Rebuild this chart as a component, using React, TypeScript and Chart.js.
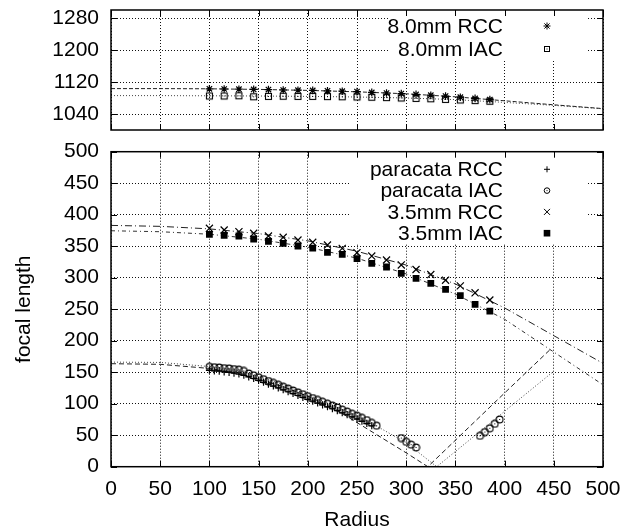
import React, { useEffect, useRef } from 'react';
import { Chart, registerables } from 'chart.js';

Chart.register(...registerables);

const FONT = '"Liberation Sans", Arial, Helvetica, sans-serif';
const FS = 21;

// ---- tick labels ----
const xTicks = [0, 50, 100, 150, 200, 250, 300, 350, 400, 450, 500];
const topYTicks = [1040, 1120, 1200, 1280];
const bottomYTicks = [0, 50, 100, 150, 200, 250, 300, 350, 400, 450, 500];

// ---- 8.0mm (top panel) ----
const mm80X = [100, 115, 130, 145, 160, 175, 190, 205, 220, 235, 250, 265, 280, 295, 310, 325, 340, 355, 370, 385];
const mm80RccY = [1103, 1102.5, 1102, 1101.5, 1101, 1100, 1099.5, 1099, 1098, 1097, 1096, 1094, 1092.5, 1091, 1089, 1087, 1085, 1082, 1079, 1076];
const mm80IacY = [1085, 1085, 1085.5, 1083, 1084, 1084.5, 1084, 1084, 1083.5, 1083, 1082.5, 1082, 1081, 1080, 1079, 1078, 1076.5, 1075, 1073.5, 1072];

const fit80X = [0, 50, 100, 150, 200, 250, 300, 350, 400, 450, 500];
const fit80RccY = [1103.5, 1103.5, 1103, 1101.5, 1099, 1095.5, 1090.5, 1083, 1073, 1063, 1053.5];
const fit80IacY = [1086, 1086, 1085.5, 1085, 1084, 1082.5, 1080, 1076, 1069, 1061.5, 1053];

// ---- 3.5mm (bottom panel) ----
const mm35X = [100, 115, 130, 145, 160, 175, 190, 205, 220, 235, 250, 265, 280, 295, 310, 325, 340, 355, 370, 385];
const mm35RccY = [378.4, 375.7, 373, 370.5, 366.2, 364.1, 359.8, 356.2, 351.9, 346.6, 339.7, 334.4, 328.1, 320.2, 313, 305, 296, 287, 276, 264.6];
const mm35IacY = [368.9, 367.3, 366.2, 361.4, 357.8, 354.6, 350.3, 347.1, 340.3, 337.1, 330.2, 322.8, 317, 307, 299, 291, 281.6, 271.5, 257.8, 247.1];

const fit35X = [0, 50, 100, 150, 200, 250, 300, 350, 400, 450, 500];
const fit35RccY = [383, 381.5, 377.5, 370, 358.5, 342, 320, 290, 252, 208, 164];
const fit35IacY = [374.5, 373, 369, 361, 348.5, 331, 306, 274, 234, 182, 130];

// ---- paracata (bottom panel) ----
const paraRccX = [100, 105, 110, 115, 120, 125, 130, 135, 140, 145, 150, 155, 160, 165, 170, 175, 180, 185, 190, 195, 200, 205, 210, 215, 220, 225, 230, 235, 240, 245, 250, 255, 260, 265];
const paraRccY = [153, 152, 151.5, 150.5, 149.5, 148.5, 147, 145, 142.5, 140, 137, 134, 131, 128, 125, 122, 119, 116, 113, 110, 107, 104, 101, 98, 95, 92, 89, 85.5, 82.5, 79, 75.5, 72, 68.5, 65];

const paraIacX = [100, 105, 110, 115, 120, 125, 130, 135, 140, 145, 150, 155, 160, 165, 170, 175, 180, 185, 190, 195, 200, 205, 210, 215, 220, 225, 230, 235, 240, 245, 250, 255, 260, 265, 270, 295, 300, 305, 310, 375, 380, 385, 390, 395];
const paraIacY = [158.5, 158, 157.5, 156.5, 156, 155, 154, 152, 148, 145, 142, 139, 136, 133, 130, 127, 124, 121, 118, 115, 112, 109, 106, 103, 100, 97, 94, 90.5, 87.5, 84, 81, 77.5, 74, 69.5, 65, 45.5, 39.5, 35, 30.5, 49, 55, 61, 68, 75];

const fitParaRccX = [0, 50, 100, 125, 150, 175, 200, 225, 250, 275, 300, 322, 350, 400, 447];
const fitParaRccY = [163.5, 162.5, 156, 148.5, 139, 127, 112, 94, 70, 46, 22, 0, 42, 117, 187];
const fitParaIacX = [0, 50, 100, 125, 150, 175, 200, 225, 250, 275, 300, 331, 375, 400, 449.5];
const fitParaIacY = [166, 165.5, 159, 154.5, 144, 130, 114, 98, 80, 60, 38, 0, 56, 88, 151];

const topNames = ['8.0mm RCC', '8.0mm IAC'];
const bottomNames = ['paracata RCC', 'paracata IAC', '3.5mm RCC', '3.5mm IAC'];

const pts = (xs: number[], ys: number[]) => xs.map((x, i) => ({ x, y: ys[i] }));

function makeSymCanvas(kind: 'sqdot' | 'circdot') {
  const c = document.createElement('canvas');
  c.width = 9;
  c.height = 9;
  const g = c.getContext('2d')!;
  g.strokeStyle = '#000';
  g.fillStyle = '#000';
  g.lineWidth = 1.1;
  if (kind === 'sqdot') {
    g.strokeRect(1.5, 1.5, 6, 6);
    g.fillRect(4, 4, 1, 1);
  } else {
    g.beginPath();
    g.arc(4.5, 4.5, 3.4, 0, Math.PI * 2);
    g.stroke();
    g.fillRect(4, 4, 1, 1);
  }
  return c;
}

function drawKeySym(ctx: CanvasRenderingContext2D, kind: string, x: number, y: number) {
  ctx.save();
  ctx.strokeStyle = '#000';
  ctx.fillStyle = '#000';
  ctx.lineWidth = 1;
  const line = (x1: number, y1: number, x2: number, y2: number) => {
    ctx.beginPath();
    ctx.moveTo(x1, y1);
    ctx.lineTo(x2, y2);
    ctx.stroke();
  };
  const r = 3;
  switch (kind) {
    case 'star':
      line(x - 3.5, y, x + 3.5, y);
      line(x, y - 3.5, x, y + 3.5);
      line(x - 2.6, y - 2.6, x + 2.6, y + 2.6);
      line(x - 2.6, y + 2.6, x + 2.6, y - 2.6);
      break;
    case 'sqdot':
      ctx.strokeRect(Math.round(x) - 2.5, Math.round(y) - 2.5, 5, 5);
      ctx.fillRect(Math.round(x) - 0.5, Math.round(y) - 0.5, 1, 1);
      break;
    case 'plus':
      line(x - r, y, x + r, y);
      line(x, y - r, x, y + r);
      break;
    case 'circdot':
      ctx.beginPath();
      ctx.arc(x, y, 2.8, 0, Math.PI * 2);
      ctx.stroke();
      ctx.fillRect(x - 0.5, y - 0.5, 1, 1);
      break;
    case 'x':
      line(x - r, y - r, x + r, y + r);
      line(x - r, y + r, x + r, y - r);
      break;
    case 'fsq':
      ctx.fillRect(x - 3.3, y - 3.3, 6.6, 6.6);
      break;
  }
  ctx.restore();
}

function gnuPlugin(cfg: { boxLeft: number; boxH: number; row0: number; step: number }) {
  return {
    id: 'gnuFrame',
    beforeDatasetsDraw(chart: any) {
      const { ctx, chartArea: a } = chart;
      ctx.save();
      ctx.fillStyle = '#fff';
      ctx.fillRect(a.right - cfg.boxLeft, a.top, cfg.boxLeft - 16, cfg.boxH);
      ctx.restore();
    },
    afterDatasetsDraw(chart: any) {
      const { ctx, chartArea: a } = chart;
      ctx.save();
      ctx.font = `${FS}px ${FONT}`;
      ctx.textAlign = 'right';
      ctx.textBaseline = 'middle';
      ctx.fillStyle = '#000';
      let i = 0;
      chart.data.datasets.forEach((ds: any) => {
        if (!ds.keySym) return;
        const y = a.top + cfg.row0 + i * cfg.step;
        ctx.fillText(ds.label, a.right - 100, y + 1);
        drawKeySym(ctx, ds.keySym, a.right - 56, y);
        i++;
      });
      const line = (x1: number, y1: number, x2: number, y2: number) => {
        ctx.beginPath();
        ctx.moveTo(x1, y1);
        ctx.lineTo(x2, y2);
        ctx.stroke();
      };
      ctx.strokeStyle = '#000';
      ctx.lineWidth = 1;
      const xs = chart.scales.x;
      const ys = chart.scales.y;
      const L = 6;
      xs.ticks.forEach((t: any) => {
        const px = Math.round(xs.getPixelForValue(t.value)) + 0.5;
        line(px, a.bottom, px, a.bottom - L);
        line(px, a.top, px, a.top + L);
      });
      ys.ticks.forEach((t: any) => {
        const py = Math.round(ys.getPixelForValue(t.value)) + 0.5;
        line(a.left, py, a.left + L, py);
        line(a.right, py, a.right - L, py);
      });
      ctx.lineWidth = 1.5;
      ctx.strokeRect(a.left, a.top, a.right - a.left, a.bottom - a.top);
      ctx.restore();
    },
  };
}

function scalesFor(yMin: number, yMax: number, yTicks: number[], showX: boolean, xHeight: number) {
  const font = { family: FONT, size: FS };
  return {
    x: {
      type: 'linear',
      min: 0,
      max: 500,
      afterBuildTicks: (s: any) => {
        s.ticks = xTicks.map((v) => ({ value: v }));
      },
      ticks: {
        display: showX,
        font,
        color: '#000',
        padding: 10,
        maxRotation: 0,
        autoSkip: false,
        callback: (v: any) => String(v),
      },
      grid: { color: '#111', lineWidth: 1, drawTicks: false },
      border: { display: false, dash: [1, 2] },
      title: showX
        ? { display: true, text: 'Radius', font, color: '#000', padding: { top: 0, bottom: 0 } }
        : { display: false },
      afterFit: (s: any) => {
        s.height = xHeight;
        s.paddingLeft = 0;
        s.paddingRight = 0;
      },
    },
    y: {
      type: 'linear',
      min: yMin,
      max: yMax,
      afterBuildTicks: (s: any) => {
        s.ticks = yTicks.map((v) => ({ value: v }));
      },
      ticks: {
        font,
        color: '#000',
        padding: 12,
        autoSkip: false,
        callback: (v: any) => String(v),
      },
      grid: { color: '#111', lineWidth: 1, drawTicks: false },
      border: { display: false, dash: [1, 2] },
      title: showX
        ? { display: true, text: 'focal length', font, color: '#000', padding: { top: 12, bottom: 0 } }
        : { display: false },
      afterFit: (s: any) => {
        s.width = 111;
        s.paddingTop = 0;
        s.paddingBottom = 0;
      },
    },
  };
}

export default function App() {
  const topRef = useRef<HTMLCanvasElement>(null);
  const botRef = useRef<HTMLCanvasElement>(null);

  useEffect(() => {
    const sqdot = makeSymCanvas('sqdot');
    const circdot = makeSymCanvas('circdot');

    const fitLine = (xs: number[], ys: number[], dash: number[], color: string) => ({
      label: '',
      data: pts(xs, ys),
      showLine: true,
      pointRadius: 0,
      borderColor: color,
      borderWidth: 1,
      borderDash: dash,
      tension: 0,
      fill: false,
      order: 2,
    });

    const topChart = new Chart(topRef.current!, {
      type: 'scatter',
      data: {
        datasets: [
          {
            label: topNames[0],
            keySym: 'star',
            data: pts(mm80X, mm80RccY),
            pointStyle: 'star',
            pointRadius: 3.8,
            borderColor: '#000',
            backgroundColor: '#000',
            borderWidth: 1.2,
            pointBorderWidth: 1.2,
            order: 1,
          } as any,
          {
            label: topNames[1],
            keySym: 'sqdot',
            data: pts(mm80X, mm80IacY),
            pointStyle: sqdot,
            pointRadius: 4,
            borderColor: '#000',
            backgroundColor: '#000',
            order: 1,
          } as any,
          fitLine(fit80X, fit80RccY, [4, 2], '#222'),
          fitLine(fit80X, fit80IacY, [1, 2], '#444'),
        ],
      },
      options: {
        responsive: false,
        animation: false,
        events: [],
        layout: { padding: { left: 0, right: 31, top: 10, bottom: 10 } },
        plugins: { legend: { display: false }, tooltip: { enabled: false } },
        scales: scalesFor(1000, 1300, topYTicks, false, 0) as any,
      },
      plugins: [gnuPlugin({ boxLeft: 215, boxH: 50, row0: 16, step: 23.3 })],
    });

    const botChart = new Chart(botRef.current!, {
      type: 'scatter',
      data: {
        datasets: [
          {
            label: bottomNames[0],
            keySym: 'plus',
            data: pts(paraRccX, paraRccY),
            pointStyle: 'cross',
            pointRadius: 3.5,
            borderColor: '#000',
            backgroundColor: '#000',
            borderWidth: 1.2,
            pointBorderWidth: 1.2,
            order: 1,
          } as any,
          {
            label: bottomNames[1],
            keySym: 'circdot',
            data: pts(paraIacX, paraIacY),
            pointStyle: circdot,
            pointRadius: 4,
            borderColor: '#000',
            backgroundColor: '#000',
            order: 1,
          } as any,
          {
            label: bottomNames[2],
            keySym: 'x',
            data: pts(mm35X, mm35RccY),
            pointStyle: 'crossRot',
            pointRadius: 5,
            borderColor: '#000',
            backgroundColor: '#000',
            borderWidth: 1.2,
            pointBorderWidth: 1.2,
            order: 1,
          } as any,
          {
            label: bottomNames[3],
            keySym: 'fsq',
            data: pts(mm35X, mm35IacY),
            pointStyle: 'rect',
            pointRadius: 4.8,
            borderColor: '#000',
            backgroundColor: '#000',
            borderWidth: 0,
            pointBorderWidth: 0,
            order: 1,
          } as any,
          fitLine(fitParaRccX, fitParaRccY, [5, 3], '#222'),
          fitLine(fitParaIacX, fitParaIacY, [1, 2], '#444'),
          fitLine(fit35X, fit35RccY, [7, 3, 1, 3], '#222'),
          fitLine(fit35X, fit35IacY, [4, 3, 1, 3], '#333'),
        ],
      },
      options: {
        responsive: false,
        animation: false,
        events: [],
        layout: { padding: { left: 0, right: 31, top: 11.7, bottom: 0 } },
        plugins: { legend: { display: false }, tooltip: { enabled: false } },
        scales: scalesFor(0, 500, bottomYTicks, true, 66.3) as any,
      },
      plugins: [gnuPlugin({ boxLeft: 253, boxH: 91.6, row0: 17.6, step: 21.3 })],
    });

    return () => {
      topChart.destroy();
      botChart.destroy();
    };
  }, []);

  return (
    <div style={{ position: 'fixed', left: 0, top: 0, width: 634, height: 532, background: '#fff', overflow: 'hidden' }}>
      <canvas
        ref={topRef}
        width={634}
        height={140}
        style={{ position: 'absolute', left: 0, top: 0, width: 634, height: 140 }}
      />
      <canvas
        ref={botRef}
        width={634}
        height={393}
        style={{ position: 'absolute', left: 0, top: 140, width: 634, height: 393 }}
      />
    </div>
  );
}
